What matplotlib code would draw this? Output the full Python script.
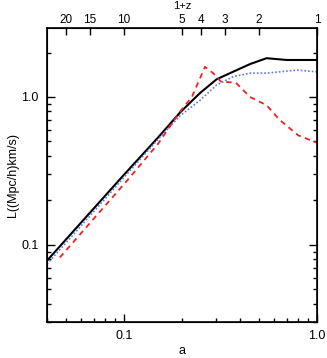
import matplotlib
matplotlib.use("Agg")
import matplotlib.pyplot as plt
import numpy as np
from matplotlib.ticker import NullFormatter, LogLocator

plt.rcParams['font.family'] = ['Liberation Sans', 'DejaVu Sans']
plt.rcParams['font.size'] = 9

# values
a_black = [0.040, 0.060, 0.100, 0.150, 0.195, 0.248, 0.302, 0.367, 0.450, 0.548, 0.697, 1.000]
L_black = [0.078, 0.141, 0.297, 0.530, 0.783, 1.064, 1.317, 1.480, 1.670, 1.830, 1.780, 1.780]

a_blue = [0.040, 0.060, 0.100, 0.150, 0.195, 0.248, 0.302, 0.367, 0.450, 0.548, 0.640, 0.790, 1.000]
L_blue = [0.074, 0.134, 0.285, 0.515, 0.744, 0.950, 1.205, 1.370, 1.450, 1.450, 1.480, 1.520, 1.480]

a_red = [0.0466, 0.103, 0.150, 0.195, 0.225, 0.263, 0.290, 0.318, 0.380, 0.450, 0.548, 0.640, 0.800, 1.000]
L_red = [0.082, 0.268, 0.480, 0.795, 1.000, 1.600, 1.450, 1.270, 1.250, 1.000, 0.880, 0.700, 0.550, 0.490]

top_z = [20, 15, 10, 5, 4, 3, 2, 1]

fig = plt.figure(figsize=(3.27, 3.58), dpi=100)
ax = fig.add_axes([47/327, 1 - 322/358, 270/327, 294/358])

ax.plot(a_black, L_black, color='black', lw=1.5)
ax.plot(a_blue, L_blue, color='#5a78f0', lw=1.2, ls=(0, (1, 1.2)))
ax.plot(a_red, L_red, color='#f02020', lw=1.3, ls=(0, (3, 2.5)))

ax.set_xscale('log')
ax.set_yscale('log')
ax.set_xlim(0.04, 1.0)
ax.set_ylim(0.03, 2.93)

ax.set_xticks([0.1, 1.0])
ax.set_xticklabels(['0.1', '1.0'])
ax.set_yticks([0.1, 1.0])
ax.set_yticklabels(['0.1', '1.0'])
ax.xaxis.set_minor_locator(LogLocator(subs=np.arange(2, 10)))
ax.yaxis.set_minor_locator(LogLocator(subs=np.arange(2, 10)))
ax.xaxis.set_minor_formatter(NullFormatter())
ax.yaxis.set_minor_formatter(NullFormatter())

ax.tick_params(which='both', direction='in', top=False, right=True, width=1)
ax.tick_params(which='major', length=6, pad=6)
ax.tick_params(which='minor', length=3)
for s in ax.spines.values():
    s.set_linewidth(1.2)

ax.set_xlabel('a', labelpad=2)
ax.set_ylabel('L((Mpc/h)km/s)', labelpad=2)

ax2 = ax.twiny()
ax2.set_xscale('log')
ax2.set_xlim(ax.get_xlim())
ax2.set_xticks([1.0 / z for z in top_z])
ax2.set_xticklabels([str(z) for z in top_z])
ax2.xaxis.set_minor_locator(plt.NullLocator())
ax2.tick_params(which='major', direction='in', length=5, width=1, pad=1.5, labelsize=8.5)
fig.text(182/327, 1 - 1/358, '1+z', ha='center', va='top', fontsize=8)

fig.savefig('out.png', dpi=100)
